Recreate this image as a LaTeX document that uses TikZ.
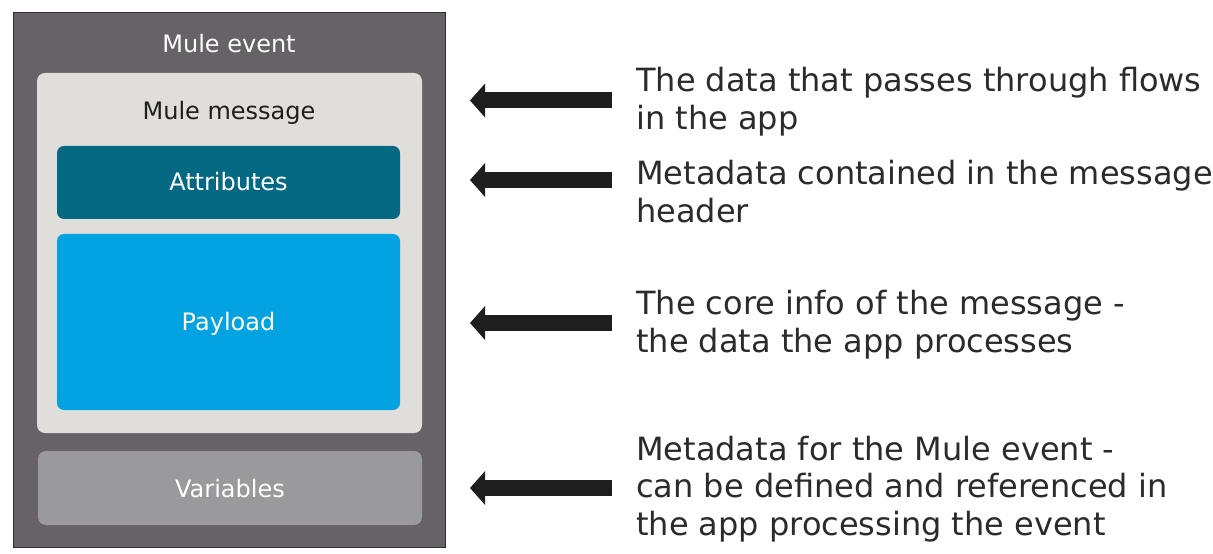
\documentclass[tikz,border=0pt]{standalone}
\usepackage{fontspec}
\setmainfont{DejaVu Sans}
\usetikzlibrary{arrows.meta}
\definecolor{eventbg}{HTML}{666267}
\definecolor{eventline}{HTML}{2E2C30}
\definecolor{msgbg}{HTML}{DFDEDB}
\definecolor{attrbg}{HTML}{066983}
\definecolor{paybg}{HTML}{03A2E0}
\definecolor{varbg}{HTML}{9A999B}
\definecolor{inkdark}{HTML}{1E1E1E}
\definecolor{txtdark}{HTML}{2B2B2B}
\begin{document}
\begin{tikzpicture}[x=1bp,y=-1bp,
  panel/.style={anchor=north west, inner sep=0pt, outer sep=0pt, draw=none},
  lbl/.style={anchor=base, inner sep=0pt, font=\fontsize{24bp}{28bp}\selectfont},
  desc/.style={anchor=base west, inner sep=0pt, align=left, text=txtdark,
               font=\fontsize{32bp}{37.5bp}\selectfont},
  bigarrow/.style={draw=inkdark, line width=16bp, -{Triangle[length=15bp,width=33bp]}}
]
\useasboundingbox[fill=white] (0,0) rectangle (1213,554);

% Mule event container
\node[panel, fill=eventbg, draw=eventline, line width=1bp, minimum width=432bp, minimum height=534bp] (event) at (13,13) {};
\node[lbl, text=white] (eventl) at (229,53) {Mule event};

% Mule message
\node[panel, fill=msgbg, rounded corners=8bp, minimum width=385bp, minimum height=360bp] (message) at (37,73) {};
\node[lbl, text=inkdark] (messagel) at (229,120) {Mule message};

% Attributes
\node[panel, fill=attrbg, rounded corners=7bp, minimum width=343bp, minimum height=73bp] (attributes) at (57,146) {};
\node[lbl, text=white] (attributesl) at (228.5,191) {Attributes};

% Payload
\node[panel, fill=paybg, rounded corners=7bp, minimum width=343bp, minimum height=176bp] (payload) at (57,234) {};
\node[lbl, text=white] (payloadl) at (228.5,331) {Payload};

% Variables
\node[panel, fill=varbg, rounded corners=8bp, minimum width=384bp, minimum height=74bp] (variables) at (38,451) {};
\node[lbl, text=white] (variablesl) at (230,497) {Variables};

% Descriptions (base anchor = baseline of the last line)
\node[desc] (d1) at (636,129.5) {The data that passes through flows\\in the app};
\node[desc] (d2) at (636,222.5) {Metadata contained in the message\\header};
\node[desc] (d3) at (636,352.5) {The core info of the message -\\the data the app processes};
\node[desc] (d4) at (636,535) {Metadata for the Mule event -\\can be defined and referenced in\\the app processing the event};

% Arrows
\coordinate (t1) at (612,100.5); \coordinate (h1) at (470,100.5);
\coordinate (t2) at (612,180);   \coordinate (h2) at (470,180);
\coordinate (t3) at (612,323);   \coordinate (h3) at (470,323);
\coordinate (t4) at (612,488);   \coordinate (h4) at (470,488);
\draw[bigarrow] (t1) -- (h1);
\draw[bigarrow] (t2) -- (h2);
\draw[bigarrow] (t3) -- (h3);
\draw[bigarrow] (t4) -- (h4);
\end{tikzpicture}
\end{document}
